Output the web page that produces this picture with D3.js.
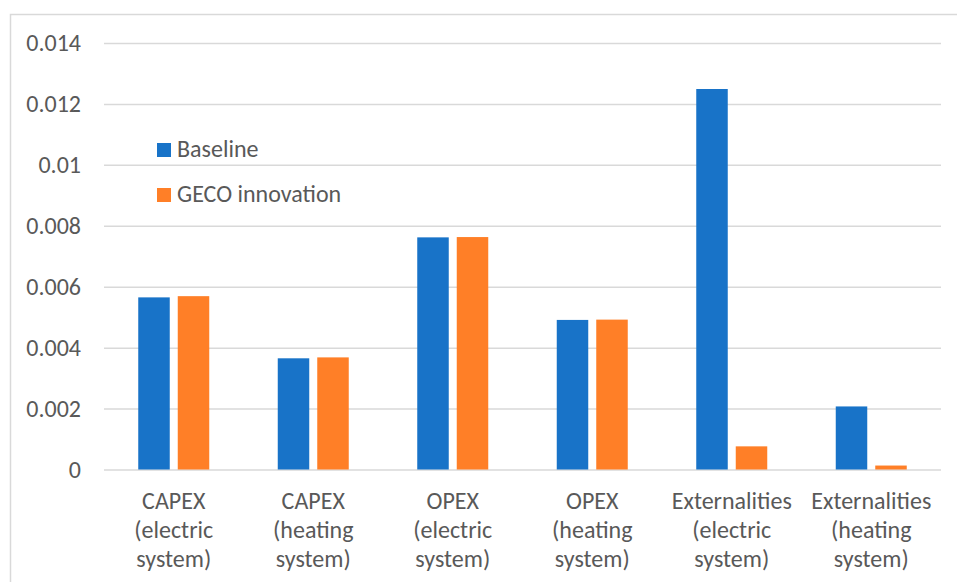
<!DOCTYPE html>
<html><head><meta charset="utf-8">
<script src="https://cdn.jsdelivr.net/npm/d3@7/dist/d3.min.js"></script>
<style>body{margin:0;background:#fff}svg{display:block}</style>
</head><body>
<svg id="chart" width="957" height="582"></svg>
<script>
const categories = [
  ["CAPEX","(electric","system)"],
  ["CAPEX","(heating","system)"],
  ["OPEX","(electric","system)"],
  ["OPEX","(heating","system)"],
  ["Externalities","(electric","system)"],
  ["Externalities","(heating","system)"]
];
const seriesNames = ["Baseline","GECO innovation"];
const baseline = [0.00565, 0.00365, 0.00762, 0.00491, 0.01249, 0.00207];
const geco = [0.00569, 0.00368, 0.00763, 0.00492, 0.00076, 0.00013];
const yTicks = [0, 0.002, 0.004, 0.006, 0.008, 0.01, 0.012, 0.014];
const yTickLabels = ["0","0.002","0.004","0.006","0.008","0.01","0.012","0.014"];
const colors = ["#1873C8","#FF7F27"];

(function(){
const svg = d3.select("#chart");
const font = "Calibri, Carlito, 'Open Sans', sans-serif";
const textColor = "#595959";
const fs = "24px";

svg.append("rect").attr("x",10.5).attr("y",14.5).attr("width",960).attr("height",600)
  .attr("fill","#fff").attr("stroke","#d9d9d9").attr("stroke-width",1.5);

const mLeft = 104, mRight = 941, mTop = 43, mBottom = 469.5;
const x = d3.scaleBand().domain(d3.range(categories.length)).range([mLeft, mRight]);
const y = d3.scaleLinear().domain([0, 0.014]).range([mBottom, mTop]);

const yAxis = svg.append("g").attr("transform",`translate(${mLeft},0)`)
  .call(d3.axisLeft(y).tickValues(yTicks).tickSize(-(mRight-mLeft)).tickFormat((d,i)=>yTickLabels[i]));
yAxis.select(".domain").remove();
yAxis.selectAll(".tick line").attr("stroke","#d9d9d9").attr("stroke-width",1.5);
yAxis.selectAll(".tick text").attr("x",-23).attr("fill",textColor)
  .style("font-family",font).style("font-size",fs);

const bw = 31.5, gap = 8;
const data = [baseline, geco];
data.forEach((vals, si) => {
  svg.append("g").selectAll("rect").data(vals).join("rect")
    .attr("x",(d,i)=> x(i) + x.bandwidth()/2 + (si===0 ? -(gap/2+bw) : gap/2))
    .attr("y",d=>y(d)).attr("width",bw).attr("height",d=>mBottom - y(d))
    .attr("fill",colors[si]);
});

const xl = svg.append("g");
categories.forEach((lines,i)=>{
  const t = xl.append("text").attr("text-anchor","middle").attr("fill",textColor)
    .style("font-family",font).style("font-size",fs);
  lines.forEach((ln,j)=>{
    t.append("tspan").attr("x",x(i)+x.bandwidth()/2).attr("y",508.5+j*29.3).text(ln);
  });
});

const leg = svg.append("g");
seriesNames.forEach((n,i)=>{
  leg.append("rect").attr("x",157).attr("y",143+i*45).attr("width",14).attr("height",14).attr("fill",colors[i]);
  leg.append("text").attr("x",177).attr("y",157.3+i*45).attr("fill",textColor)
    .style("font-family",font).style("font-size",fs).text(n);
});
})();
</script>
</body></html>
